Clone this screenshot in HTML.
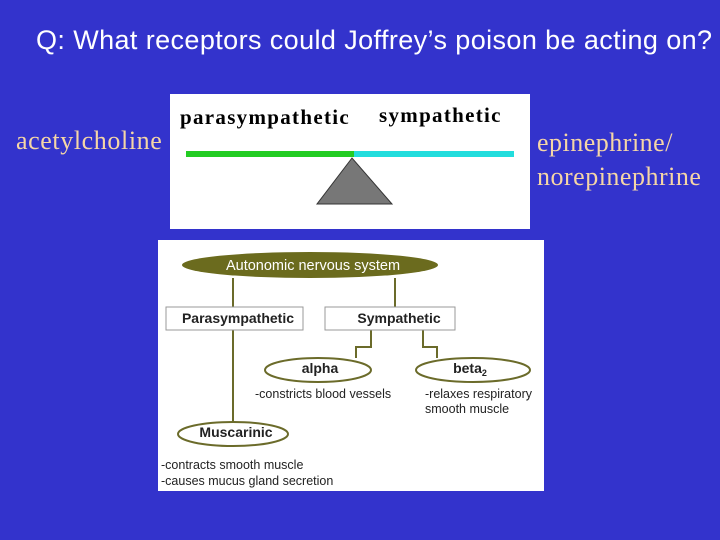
<!DOCTYPE html>
<html><head><style>
body{margin:0;width:720px;height:540px;background:#3333cc;overflow:hidden;position:relative;font-family:"Liberation Sans",sans-serif}
.t{position:absolute;white-space:nowrap}
</style></head><body>
<div class="t" style="left:36px;top:25px;font-size:27px;letter-spacing:0.4px;color:#fff">Q: What receptors could Joffrey’s poison be acting on?</div>
<div class="t" style="left:16px;top:126px;font-size:26px;letter-spacing:0.6px;color:#f5d6a6;font-family:'Liberation Serif',serif">acetylcholine</div>
<div class="t" style="left:537px;top:126px;font-size:26px;letter-spacing:0.5px;color:#f5d6a6;font-family:'Liberation Serif',serif;line-height:34px">epinephrine/<br>norepinephrine</div>
<svg width="720" height="540" style="position:absolute;left:0;top:0" font-family="Liberation Sans, sans-serif">
<rect x="170" y="94" width="360" height="135" fill="#fff"/>
<text x="180" y="124" font-family="Liberation Serif, serif" font-weight="bold" font-size="21" letter-spacing="1.3">parasympathetic</text>
<text x="379" y="122" font-family="Liberation Serif, serif" font-weight="bold" font-size="21" letter-spacing="1.3">sympathetic</text>
<rect x="186" y="151" width="168" height="6" fill="#22cc22"/>
<rect x="354" y="151" width="160" height="6" fill="#22dddd"/>
<polygon points="352,158 317,204 392,204" fill="#777" stroke="#333"/>
<rect x="158" y="240" width="386" height="251" fill="#fff"/>
<g stroke="#6b6b2a" stroke-width="2" fill="none">
<line x1="233" y1="278" x2="233" y2="307"/>
<line x1="395" y1="278" x2="395" y2="307"/>
<line x1="233" y1="330" x2="233" y2="422"/>
<polyline points="371,330 371,347 356,347 356,358"/>
<polyline points="423,330 423,347 437,347 437,358"/>
</g>
<ellipse cx="310" cy="265" rx="128" ry="13" fill="#6b6b1e"/>
<text x="313" y="270" fill="#fff" font-size="14.5" text-anchor="middle">Autonomic nervous system</text>
<g fill="#fff" stroke="#999">
<rect x="166" y="307" width="137" height="23"/>
<rect x="325" y="307" width="130" height="23"/>
</g>
<g fill="#fff" stroke="#6b6b2a" stroke-width="2">
<ellipse cx="318" cy="370" rx="53" ry="12"/>
<ellipse cx="473" cy="370" rx="57" ry="12"/>
<ellipse cx="233" cy="434" rx="55" ry="12"/>
</g>
<g font-size="14" fill="#222" text-anchor="middle" font-weight="bold">
<text x="238" y="323">Parasympathetic</text>
<text x="399" y="323">Sympathetic</text>
<text x="320" y="373">alpha</text>
<text x="470" y="373">beta<tspan font-size="9" dy="3">2</tspan></text>
<text x="236" y="437">Muscarinic</text>
</g>
<g font-size="12.5" fill="#222">
<text x="255" y="398">-constricts blood vessels</text>
<text x="425" y="398">-relaxes respiratory</text>
<text x="425" y="413">smooth muscle</text>
<text x="161" y="469">-contracts smooth muscle</text>
<text x="161" y="485">-causes mucus gland secretion</text>
</g>
</svg>
</body></html>
